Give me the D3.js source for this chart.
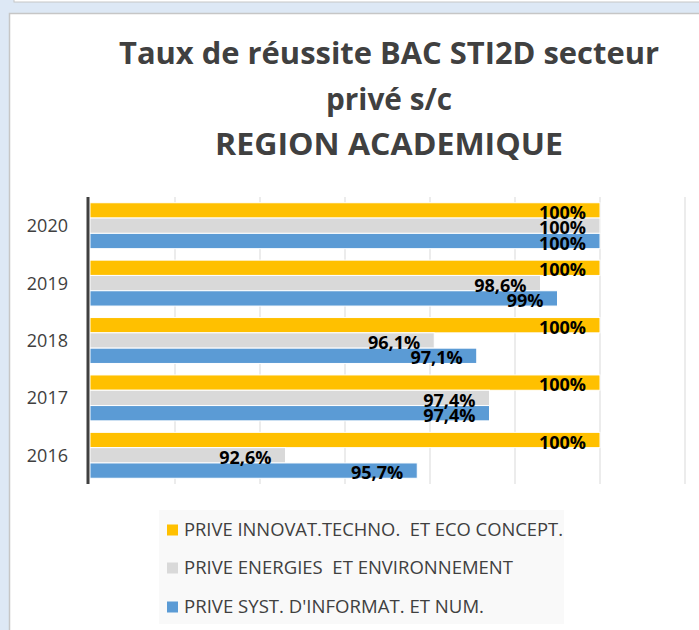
<!DOCTYPE html>
<html><head><meta charset="utf-8">
<script src="https://cdn.jsdelivr.net/npm/d3@7"></script>
<style>
html,body{margin:0;padding:0;background:#dde8f5;}
svg{display:block;}
text{white-space:pre;}
</style></head>
<body>
<svg id="c" width="699" height="630"></svg>
<script>
const years = ["2016", "2017", "2018", "2019", "2020"];
const seriesNames = ["PRIVE INNOVAT.TECHNO.  ET ECO CONCEPT.", "PRIVE ENERGIES  ET ENVIRONNEMENT", "PRIVE SYST. D'INFORMAT. ET NUM."];
const innovValues = [100, 100, 100, 100, 100];
const energValues = [92.6, 97.4, 96.1, 98.6, 100];
const sinValues = [95.7, 97.4, 97.1, 99, 100];
const seriesColors = ["#FFC000", "#D9D9D9", "#5B9BD5"];
const xTicks = [88, 90, 92, 94, 96, 98, 100, 102];
const titleLines = ["Taux de réussite BAC STI2D secteur", "privé s/c", "REGION ACADEMIQUE"];

const seriesValues = [innovValues, energValues, sinValues];
const svg = d3.select("#c");

// window frame
svg.append("rect").attr("x", 0).attr("y", 0).attr("width", 699).attr("height", 630).attr("fill", "#dde8f5");
svg.append("rect").attr("x", 14).attr("y", -2).attr("width", 700).attr("height", 4).attr("fill", "#ffffff").attr("stroke", "#c6c6c6");
svg.append("rect").attr("x", 9.5).attr("y", 13.5).attr("width", 700).attr("height", 630).attr("fill", "#ffffff").attr("stroke", "#c6c6c6").attr("stroke-width", 1.5);

// title
const cx = 389;
const tb = [64, 110, 155];
const tw = [540, 126, 348];
titleLines.forEach((t, i) => {
  svg.append("text").attr("x", cx).attr("y", tb[i]).attr("text-anchor", "middle")
    .attr("font-family", "'Open Sans', sans-serif").attr("font-weight", "bold").attr("font-size", 31)
    .attr("textLength", tw[i]).attr("lengthAdjust", "spacingAndGlyphs")
    .attr("fill", "#404040").text(t);
});

const x = d3.scaleLinear().domain([88, 102]).range([90, 685]);
const y = d3.scaleBand().domain(years.slice().reverse()).range([197, 484]).paddingInner(0.2).paddingOuter(0.1);
const ys = d3.scaleBand().domain(d3.range(seriesNames.length)).range([0, y.bandwidth()]);

// gridlines
svg.append("g").selectAll("line").data(xTicks.slice(1)).join("line")
  .attr("x1", d => x(d)).attr("x2", d => x(d)).attr("y1", 197).attr("y2", 484)
  .attr("stroke", "#d9d9d9").attr("stroke-width", 1);

// bars
const fmt = v => (Number.isInteger(v) ? String(v) : v.toFixed(1).replace(".", ",")) + "%";
const groups = svg.append("g").selectAll("g").data(years).join("g")
  .attr("transform", d => `translate(0,${y(d)})`);
seriesValues.forEach((vals, s) => {
  groups.append("rect")
    .attr("x", x(88)).attr("y", ys(s))
    .attr("width", (d, i) => x(vals[i]) - x(88)).attr("height", ys.bandwidth())
    .attr("fill", seriesColors[s]).attr("stroke", "#ffffff").attr("stroke-width", 1);
});
seriesValues.forEach((vals, s) => {
  groups.append("text")
    .attr("x", (d, i) => x(vals[i]) - 14).attr("y", ys(s) + ys.bandwidth() + 1)
    .attr("text-anchor", "end")
    .attr("font-family", "'Open Sans', sans-serif").attr("font-weight", "bold").attr("font-size", 18)
    .attr("fill", "#000").text((d, i) => fmt(vals[i]));
});

// y axis
const yAxis = d3.axisLeft(y).tickSize(0).tickPadding(20);
const ga = svg.append("g").attr("transform", `translate(${x(88) - 2},0)`).call(yAxis);
ga.select(".domain").attr("stroke", "#404040").attr("stroke-width", 3).attr("d", "M0,197V484");
ga.selectAll("text").attr("font-family", "'Open Sans', sans-serif").attr("font-size", 18).attr("fill", "#404040").attr("dy", "0.36em");

// legend
svg.append("rect").attr("x", 159).attr("y", 510).attr("width", 405).attr("height", 114).attr("fill", "#f9f9f9");
const ly = [530, 568, 607];
const lw = [379, 329, 300];
seriesNames.forEach((n, i) => {
  svg.append("rect").attr("x", 167).attr("y", ly[i] - 5.5).attr("width", 11).attr("height", 11).attr("fill", seriesColors[i]);
  svg.append("text").attr("x", 184).attr("y", ly[i]).attr("dy", "0.36em")
    .attr("font-family", "'Open Sans', sans-serif").attr("font-size", 17.5).attr("fill", "#404040")
    .attr("textLength", lw[i]).attr("lengthAdjust", "spacingAndGlyphs").text(n);
});
</script>
</body></html>
